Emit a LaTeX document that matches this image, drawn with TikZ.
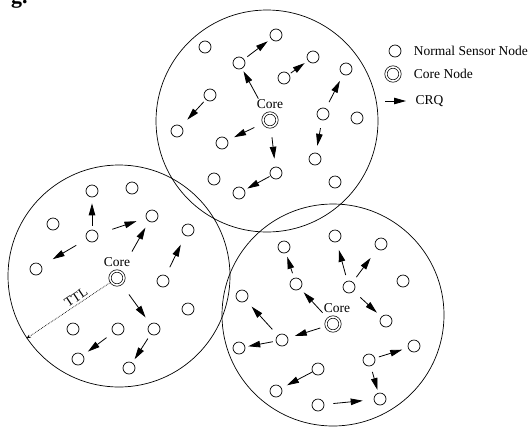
\documentclass[tikz,border=0pt]{standalone}
\usepackage{fontspec}
\setmainfont{Liberation Serif}
\usetikzlibrary{arrows.meta,positioning}

\begin{document}
\begin{tikzpicture}
  [x=1pt,y=-1pt,
  sensor/.style={circle,draw,line width=0.7pt,inner sep=0pt,minimum size=12pt},
  core/.style={circle,draw,line width=0.7pt,double,double distance=1.6pt,inner sep=0pt,minimum size=14pt},
  zone/.style={circle,draw,line width=0.7pt,inner sep=0pt,minimum size=222pt},
  txt/.style={font=\fontsize{13.5}{16}\selectfont},
  every label/.style={txt,inner sep=1pt},
  crq/.style 2 args={-{Triangle[length=12pt,width=6.5pt]},line width=0.8pt,shorten <=#1pt,shorten >=#2pt},
  ttl/.style={densely dotted,line width=0.7pt,-{Stealth[length=4pt,width=3.5pt]}}
  ]
  \useasboundingbox (0,0) rectangle (532,426);

  % caption remnant
  \node[anchor=base west,inner sep=0pt,font=\fontsize{22}{22}\selectfont\bfseries] (fig) at (11,3) {g.};

  % clusters
  \node[zone] (tzone) at (267,121) {};
  \node[zone] (lzone) at (119,276) {};
  \node[zone] (bzone) at (333,315) {};

  \node[core,label={[label distance=3pt]above:Core}] (tcore) at (270,120) {};
  \node[core,label={[label distance=3pt]above:Core}] (lcore) at (117,278) {};
  \node[core,label={[label distance=3pt,xshift=4pt]above:Core}] (bcore) at (333,324) {};

  \foreach \name/\x/\y in {t1/205/47, t2/276/35, t3/239/63, t4/313/57, t5/284/78,
    t6/346/69, t7/210/95, t8/177/131, t9/323/114, t10/357/118, t11/222/143,
    t12/315/159, t13/214/179, t14/276/173, t15/239/193, t16/335/182}
    \node[sensor] (\name) at (\x,\y) {};

  \foreach \name/\x/\y in {l1/92/191, l2/132/188, l3/53/224, l4/92/236, l5/152/216,
    l6/188/230, l7/36/269, l8/163/281, l9/188/309, l10/73/329, l11/118/329,
    l12/154/329, l13/78/359, l14/129/368}
    \node[sensor] (\name) at (\x,\y) {};

  \foreach \name/\x/\y in {b1/284/247, b2/335/236, b3/381/244, b4/296/284, b5/349/287,
    b6/403/281, b7/242/296, b8/386/321, b9/282/340, b10/239/348, b11/414/346,
    b12/369/360, b13/318/369, b14/276/391, b15/380/399, b16/318/405}
    \node[sensor] (\name) at (\x,\y) {};

  % core requests
  \foreach \from/\to/\a/\b in {t3/t2/4/4, tcore/t3/17/3, t5/t4/2/4, t7/t8/3/9,
    tcore/t11/10/7, tcore/t14/10/8, t14/t15/1/3, t9/t6/7/7, t9/t12/8/7,
    l4/l1/4/6, l4/l5/15/10, l4/l7/12/13, lcore/l5/23/7, l8/l6/9/10,
    lcore/l12/13/8, l11/l13/8/6, l12/l14/5/4,
    b4/b1/5/4, bcore/b4/8/5, b5/b2/6/8, b5/b3/6/11, b5/b8/9/6, bcore/b9/6/7,
    b9/b10/3/3, b9/b7/8/8, b12/b11/4/6, b12/b15/6/3, b13/b14/0/6, b16/b15/9/11}
    \draw[crq={\a}{\b}] (\from) -- (\to);

  \draw[ttl] (lcore) -- node[txt,sloped,above,pos=0.37,inner sep=2pt] (ttllabel) {TTL} (lzone.214.6);

  % legend
  \node[sensor] (keysensor) at (395,51) {};
  \node[txt,right=9pt of keysensor] (keysensortext) {Normal Sensor Node};
  \node[core] (keycore) at (393,74) {};
  \node[txt,right=10pt of keycore] (keycoretext) {Core Node};
  \coordinate (keytail) at (385,101);
  \coordinate (keyhead) at (406,101);
  \draw[crq={0}{0}] (keytail) -- (keyhead);
  \node[txt,right=6pt of keyhead] (keycrqtext) {CRQ};
\end{tikzpicture}
\end{document}
